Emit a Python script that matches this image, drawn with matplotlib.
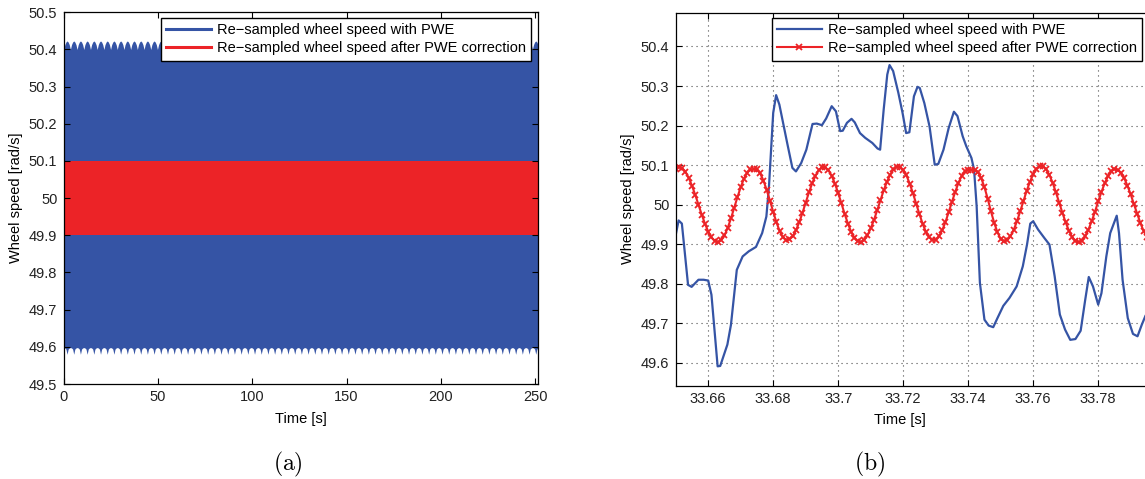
import numpy as np
import matplotlib.pyplot as plt
from matplotlib.lines import Line2D
from matplotlib.ticker import FormatStrFormatter, MultipleLocator, FixedLocator

plt.rcParams['font.family'] = ['Liberation Sans', 'DejaVu Sans']
plt.rcParams['mathtext.fontset'] = 'cm'

BLUE = '#3554a5'
RED = '#ec2327'
FS = 10.5

LBL_RAW = 'Re\u2212sampled wheel speed with PWE'
LBL_COR = 'Re\u2212sampled wheel speed after PWE correction'

### (a) whole record: the trace is far too dense to resolve, only its envelope is readable ###
full_t_end = 251.2
tooth_period = 3.55            # s, ripple spacing on the band edges
upper_tooth = [50.400, 50.413, 50.420, 50.423, 50.420, 50.413]
lower_tooth = [49.598, 49.597, 49.594, 49.580, 49.594, 49.597]
corrected_band = [49.900, 50.100]

### (b) zoom on 33.65 .. 33.80 s ###
raw_t = [33.6497, 33.6509, 33.6519, 33.6538, 33.6549, 33.6570, 33.6586, 33.6600,
         33.6610, 33.6629, 33.6637, 33.6659, 33.6670, 33.6688, 33.6706, 33.6725,
         33.6747, 33.6766, 33.6779, 33.6787, 33.6800, 33.6809, 33.6819, 33.6843,
         33.6859, 33.6870, 33.6886, 33.6902, 33.6921, 33.6934, 33.6950, 33.6963,
         33.6980, 33.6993, 33.7006, 33.7014, 33.7027, 33.7041, 33.7051, 33.7067,
         33.7083, 33.7105, 33.7121, 33.7129, 33.7140, 33.7151, 33.7158, 33.7169,
         33.7185, 33.7198, 33.7209, 33.7219, 33.7233, 33.7244, 33.7251, 33.7265,
         33.7281, 33.7297, 33.7308, 33.7324, 33.7340, 33.7356, 33.7367, 33.7383,
         33.7394, 33.7410, 33.7418, 33.7426, 33.7436, 33.7450, 33.7463, 33.7477,
         33.7490, 33.7508, 33.7527, 33.7549, 33.7568, 33.7581, 33.7591, 33.7600,
         33.7615, 33.7634, 33.7650, 33.7666, 33.7682, 33.7698, 33.7714, 33.7730,
         33.7746, 33.7760, 33.7771, 33.7784, 33.7800, 33.7810, 33.7825, 33.7837,
         33.7857, 33.7864, 33.7875, 33.7891, 33.7907, 33.7921, 33.7934, 33.7945]
raw_speed = [49.911, 49.960, 49.952, 49.797, 49.792, 49.810, 49.810, 49.808,
             49.772, 49.591, 49.592, 49.646, 49.696, 49.835, 49.869, 49.882,
             49.893, 49.928, 49.970, 50.046, 50.232, 50.277, 50.253, 50.156,
             50.093, 50.084, 50.105, 50.139, 50.204, 50.205, 50.201, 50.218,
             50.249, 50.236, 50.186, 50.187, 50.207, 50.217, 50.208, 50.181,
             50.169, 50.156, 50.142, 50.139, 50.241, 50.329, 50.353, 50.338,
             50.283, 50.232, 50.181, 50.183, 50.274, 50.298, 50.295, 50.257,
             50.198, 50.101, 50.103, 50.139, 50.194, 50.235, 50.224, 50.173,
             50.148, 50.118, 50.089, 49.996, 49.802, 49.709, 49.694, 49.690,
             49.713, 49.744, 49.764, 49.793, 49.844, 49.899, 49.952, 49.958,
             49.937, 49.916, 49.899, 49.819, 49.722, 49.684, 49.658, 49.660,
             49.681, 49.759, 49.817, 49.793, 49.747, 49.776, 49.869, 49.928,
             49.972, 49.928, 49.810, 49.713, 49.673, 49.667, 49.696, 49.718]

cor_t0, cor_dt = 33.650, 0.001     # corrected signal, 1 kHz samples
cor_speed = [50.089, 50.095, 50.092, 50.083, 50.068, 50.048, 50.025, 50.000, 49.975, 49.952,
             49.932, 49.917, 49.908, 49.905, 49.910, 49.922, 49.941, 49.965, 49.992, 50.019,
             50.044, 50.066, 50.081, 50.089, 50.090, 50.089, 50.079, 50.061, 50.037, 50.010,
             49.982, 49.955, 49.933, 49.917, 49.910, 49.912, 49.920, 49.935, 49.955, 49.979,
             50.005, 50.031, 50.054, 50.073, 50.087, 50.094, 50.094, 50.087, 50.073, 50.053,
             50.029, 50.003, 49.976, 49.952, 49.931, 49.916, 49.907, 49.905, 49.911, 49.922,
             49.940, 49.961, 49.986, 50.011, 50.036, 50.058, 50.076, 50.089, 50.096, 50.096,
             50.088, 50.074, 50.053, 50.029, 50.002, 49.976, 49.951, 49.931, 49.918, 49.911,
             49.911, 49.920, 49.935, 49.956, 49.981, 50.007, 50.032, 50.055, 50.073, 50.084,
             50.088, 50.088, 50.087, 50.083, 50.067, 50.044, 50.015, 49.983, 49.954, 49.930,
             49.913, 49.907, 49.910, 49.920, 49.936, 49.958, 49.983, 50.009, 50.035, 50.058,
             50.077, 50.091, 50.097, 50.097, 50.089, 50.075, 50.055, 50.031, 50.005, 49.979,
             49.955, 49.934, 49.918, 49.908, 49.905, 49.909, 49.920, 49.937, 49.958, 49.982,
             50.008, 50.032, 50.054, 50.072, 50.084, 50.090, 50.088, 50.081, 50.067, 50.048,
             50.026, 50.001, 49.977, 49.953, 49.933, 49.918]
cor_t = np.round(cor_t0 + cor_dt * np.arange(len(cor_speed)), 4)

zoom_xticks = [33.66, 33.68, 33.70, 33.72, 33.74, 33.76, 33.78]


W, H = 1145, 479
fig = plt.figure(figsize=(W / 100, H / 100), dpi=100)

def px_box(l, t, r, b):
    return [l / W, 1 - b / H, (r - l) / W, (b - t) / H]

def matlab_axes(ax):
    ax.tick_params(direction='in', top=True, right=True, length=4, width=0.8,
                   labelsize=FS, labelcolor='#222222', pad=4.5)
    for s in ax.spines.values():
        s.set_linewidth(0.9)

def boxed_legend(ax, handles, labels, right_px):
    leg = ax.legend(handles, labels, loc='upper right',
                    bbox_to_anchor=(right_px / W, 1 - 18 / H), bbox_transform=fig.transFigure,
                    fontsize=FS, handlelength=3.1, handletextpad=0.4, borderpad=0.35,
                    labelspacing=0.3, borderaxespad=0, fancybox=False, framealpha=1)
    leg.get_frame().set_edgecolor('black')
    leg.get_frame().set_linewidth(1.0)
    return leg

# ---- (a) ----
ax1 = fig.add_axes(px_box(63.7, 12.3, 537.5, 384))
k = len(upper_tooth)
n_teeth = int(np.ceil(full_t_end / tooth_period))
env_t = np.arange(n_teeth * k + 1) * tooth_period / k
env_hi = np.append(np.tile(upper_tooth, n_teeth), upper_tooth[0])
env_lo = np.append(np.tile(lower_tooth, n_teeth), lower_tooth[0])
ax1.fill_between(env_t, env_lo, env_hi, color=BLUE, linewidth=0)
ax1.fill_between([0, full_t_end], corrected_band[0], corrected_band[1], color=RED, linewidth=0)
ax1.set_xlim(0, full_t_end)
ax1.set_ylim(49.5, 50.5)
ax1.xaxis.set_major_locator(MultipleLocator(50))
ax1.yaxis.set_major_locator(MultipleLocator(0.1))
ax1.yaxis.set_major_formatter(FormatStrFormatter('%g'))
matlab_axes(ax1)
ax1.set_xlabel('Time [s]', fontsize=FS)
ax1.set_ylabel('Wheel speed [rad/s]', fontsize=FS)
ax1.xaxis.set_label_coords(0.5, -0.075)
ax1.yaxis.set_label_coords(-0.086, 0.5)
boxed_legend(ax1, [Line2D([], [], color=BLUE, lw=2.2), Line2D([], [], color=RED, lw=2.2)],
             [LBL_RAW, LBL_COR], 531)

# ---- (b) ----
ax2 = fig.add_axes(px_box(675.7, 12.5, 1163.2, 385.5))
l_raw, = ax2.plot(raw_t, raw_speed, color=BLUE, lw=1.6)
l_cor, = ax2.plot(cor_t, cor_speed, color=RED, lw=1.5, marker='x', markersize=4.5,
                  markeredgewidth=1.3)
ax2.set_xlim(33.65, 33.80)
ax2.set_ylim(49.5425, 50.486)
ax2.xaxis.set_major_locator(FixedLocator(zoom_xticks))
ax2.yaxis.set_major_locator(MultipleLocator(0.1))
ax2.xaxis.set_major_formatter(FormatStrFormatter('%g'))
ax2.yaxis.set_major_formatter(FormatStrFormatter('%g'))
ax2.grid(True, linestyle=(0, (1, 3.5)), color='0.3', linewidth=0.8)
matlab_axes(ax2)
ax2.set_xlabel('Time [s]', fontsize=FS)
ax2.set_ylabel('Wheel speed [rad/s]', fontsize=FS)
ax2.xaxis.set_label_coords(0.46, -0.075)
ax2.yaxis.set_label_coords(-0.0835, 0.5)
boxed_legend(ax2, [l_raw, l_cor], [LBL_RAW, LBL_COR], 1142)

fig.text(288 / W, 1 - 464 / H, r'$\mathrm{(a)}$', fontsize=17, ha='center', va='center')
fig.text(870 / W, 1 - 464 / H, r'$\mathrm{(b)}$', fontsize=17, ha='center', va='center')

plt.savefig('out.png', dpi=100)
